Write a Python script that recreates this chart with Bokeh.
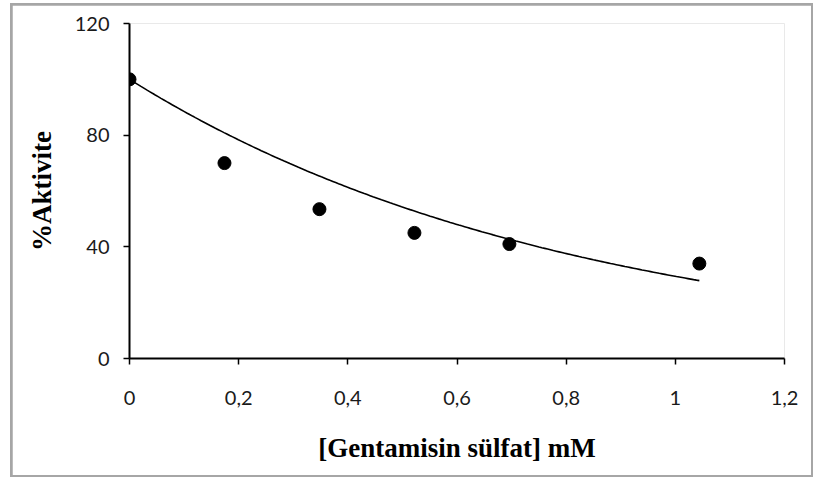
import numpy as np
from bokeh.plotting import figure
from bokeh.layouts import column
from bokeh.models import Range1d, FixedTicker, ColumnDataSource
from bokeh.embed import file_html
from bokeh.resources import INLINE

# Data
concentration_mM = [0.0, 0.174, 0.348, 0.522, 0.696, 1.044]
activity_pct = [100.0, 70.0, 53.5, 45.0, 41.0, 34.0]

x_ticks = [0, 0.2, 0.4, 0.6, 0.8, 1, 1.2]
x_tick_labels = ["0", "0,2", "0,4", "0,6", "0,8", "1", "1,2"]
y_ticks = [0, 40, 80, 120]

# Exponential trendline with intercept fixed at 100 (least squares on log scale)
xa = np.array(concentration_mM)
ya = np.array(activity_pct)
intercept = 100.0
k = np.sum(xa * np.log(ya / intercept)) / np.sum(xa * xa)
xf = np.linspace(xa.min(), xa.max(), 200)
yf = intercept * np.exp(k * xf)

p = figure(width=799, height=470, output_backend="svg", toolbar_location=None,
           x_range=Range1d(0, 1.2), y_range=Range1d(0, 120),
           min_border_left=117, min_border_right=27, min_border_top=18, min_border_bottom=117)
p.background_fill_color = "white"
p.border_fill_color = "white"
p.outline_line_color = None
p.xgrid.visible = False
p.ygrid.visible = False

p.line(xf, yf, line_color="black", line_width=1.6)
src = ColumnDataSource(dict(x=concentration_mM, y=activity_pct))
p.scatter("x", "y", source=src, size=13, fill_color="black", line_color="black")

for ax in (p.xaxis[0], p.yaxis[0]):
    ax.axis_line_color = "black"
    ax.axis_line_width = 2
    ax.major_tick_line_color = "black"
    ax.major_tick_line_width = 1.5
    ax.major_tick_out = 6
    ax.major_tick_in = 0
    ax.minor_tick_line_color = None
    ax.major_label_text_font = "Lato"
    ax.major_label_text_font_size = "20px"
    ax.major_label_text_color = "#1a1a1a"
    ax.axis_label_text_font = "Liberation Serif"
    ax.axis_label_text_font_style = "bold"
    ax.axis_label_text_font_size = "27px"
    ax.axis_label_text_color = "black"

p.xaxis.ticker = FixedTicker(ticks=x_ticks)
p.xaxis.major_label_overrides = dict(zip(x_ticks, x_tick_labels))
p.xaxis.major_label_standoff = 26
p.xaxis.axis_label = "[Gentamisin sülfat] mM"
p.xaxis.axis_label_standoff = 25

p.yaxis.ticker = FixedTicker(ticks=y_ticks)
p.yaxis.major_label_standoff = 14
p.yaxis.axis_label = "%Aktivite"
p.yaxis.axis_label_standoff = 15

layout = column(p, margin=(3, 0, 0, 10),
                styles={"background-color": "#a6a6a6", "padding": "2px"})

open("out.html", "w").write(file_html(layout, INLINE))
